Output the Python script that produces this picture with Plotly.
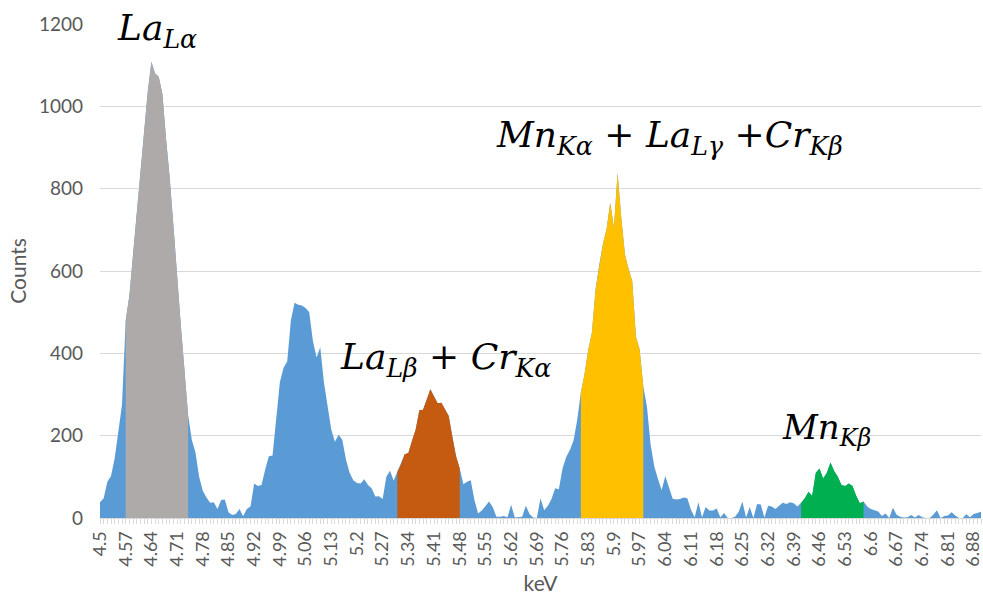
import numpy as np
import plotly.graph_objects as go

# EDS spectrum, 0.01 keV channels starting at 4.50 keV
KEV_START = 4.50
KEV_STEP = 0.01
counts = [
    38, 48, 88, 102, 145, 205, 275, 480, 540, 640,
    740, 830, 925, 1035, 1108, 1080, 1072, 1030, 920, 825,
    710, 580, 470, 360, 250, 190, 160, 100, 66, 50,
    37, 38, 22, 44, 45, 14, 7, 10, 22, 4,
    22, 28, 84, 78, 80, 118, 150, 152, 240, 330,
    365, 380, 480, 523, 518, 516, 510, 500, 430, 390,
    415, 330, 272, 215, 185, 202, 190, 142, 110, 92,
    85, 84, 94, 80, 72, 52, 53, 46, 100, 115,
    91, 112, 130, 155, 158, 188, 215, 262, 263, 288,
    313, 295, 279, 280, 265, 248, 197, 150, 120, 82,
    88, 92, 44, 11, 18, 30, 40, 26, 3, 3,
    5, 2, 32, 1, 2, 3, 30, 10, 1, 0,
    48, 19, 30, 46, 72, 70, 120, 148, 165, 188,
    238, 305, 350, 408, 450, 555, 615, 665, 702, 766,
    705, 838, 730, 640, 605, 575, 440, 410, 320, 270,
    178, 125, 95, 68, 102, 75, 47, 45, 46, 50,
    48, 20, 2, 38, 2, 27, 18, 18, 23, 2,
    12, 0, 0, 3, 15, 40, 1, 27, 0, 34,
    33, 1, 30, 28, 22, 30, 37, 34, 38, 36,
    28, 37, 48, 64, 54, 110, 120, 96, 110, 135,
    114, 100, 80, 78, 84, 78, 54, 36, 40, 28,
    22, 19, 16, 5, 11, 0, 25, 8, 3, 1,
    2, 7, 1, 7, 2, 0, 0, 8, 19, 0,
    5, 6, 14, 6, 0, 0, 9, 2, 10, 12,
    15,
]
kev = np.round(KEV_START + KEV_STEP * np.arange(len(counts)), 2)
counts = np.array(counts, dtype=float)

# Highlighted emission-line windows (keV)
band_start = [4.57, 5.31, 5.81, 6.41]
band_end = [4.74, 5.48, 5.98, 6.58]
band_colors = ["#AEAAAA", "#C55A11", "#FFC000", "#00B050"]

# Category labels shown every seventh channel
tick_vals = [round(KEV_START + 0.07 * k, 2) for k in range(35)]
tick_text = [f"{v:g}" for v in tick_vals]

BLUE = "#5B9BD5"
AXIS_GREY = "#D9D9D9"
TEXT_GREY = "#595959"
UI_FONT = "Lato, 'Open Sans', sans-serif"
MATH_FONT = "'DejaVu Serif', 'Liberation Serif', serif"

fig = go.Figure()
fig.add_trace(go.Scatter(
    x=kev, y=counts, mode="lines", line=dict(width=0, color=BLUE),
    fill="tozeroy", fillcolor=BLUE, hoverinfo="x+y", showlegend=False,
))
for s, e, c in zip(band_start, band_end, band_colors):
    m = (kev >= s - 1e-9) & (kev <= e + 1e-9)
    fig.add_trace(go.Scatter(
        x=kev[m], y=counts[m], mode="lines", line=dict(width=0, color=c),
        fill="tozeroy", fillcolor=c, hoverinfo="x+y", showlegend=False,
    ))

labels = [
    ("<i>La<sub>Lα</sub></i>", 4.655, 1185, 36),
    ("<i>La<sub>Lβ</sub> + Cr<sub>Kα</sub></i>", 5.44, 384, 36),
    ("<i>Mn<sub>Kα</sub> + La<sub>Lγ</sub> +Cr<sub>Kβ</sub></i>", 6.052, 925, 36),
    ("<i>Mn<sub>Kβ</sub></i>", 6.478, 214, 34),
]
for txt, x, y, sz in labels:
    fig.add_annotation(
        x=x, y=y, xref="x", yref="y", text=txt, showarrow=False,
        xanchor="center", yanchor="middle",
        font=dict(family=MATH_FONT, size=sz, color="#000000"),
    )

fig.update_layout(
    width=983, height=595,
    margin=dict(l=100, r=0, t=24, b=77),
    paper_bgcolor="white", plot_bgcolor="white",
    font=dict(family=UI_FONT, color=TEXT_GREY),
    xaxis=dict(
        range=[KEV_START, 6.90],
        tickmode="array", tickvals=tick_vals, ticktext=tick_text,
        tickangle=-90, tickfont=dict(size=18, color=TEXT_GREY),
        ticklabeloverflow="allow",
        ticks="outside", ticklen=5, tickcolor=AXIS_GREY, tickwidth=1,
        minor=dict(dtick=KEV_STEP, tick0=KEV_START, ticks="outside",
                   ticklen=5, tickcolor=AXIS_GREY, showgrid=False),
        showline=True, linecolor=AXIS_GREY, linewidth=1,
        showgrid=False, zeroline=False,
        title=dict(text="keV", font=dict(size=21, color=TEXT_GREY), standoff=10),
    ),
    yaxis=dict(
        range=[0, 1200], dtick=200, tick0=0,
        showgrid=True, gridcolor=AXIS_GREY, gridwidth=1,
        zeroline=False, showline=False, ticks="",
        tickfont=dict(size=19, color=TEXT_GREY), ticklabelstandoff=16,
        title=dict(text="Counts", font=dict(size=21, color=TEXT_GREY), standoff=6),
    ),
)

fig.write_html("out.html")
